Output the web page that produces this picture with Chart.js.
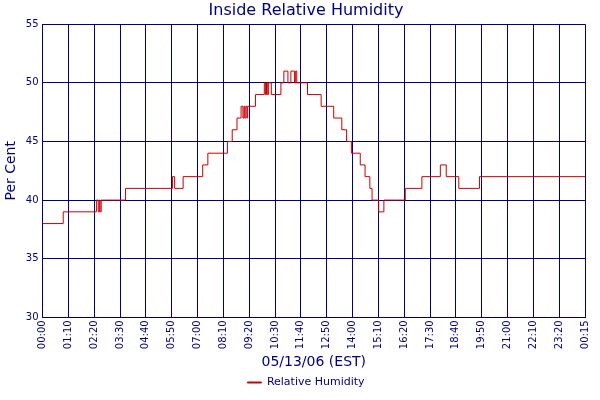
<!DOCTYPE html>
<html><head><meta charset="utf-8">
<script src="https://cdn.jsdelivr.net/npm/chart.js@4/dist/chart.umd.min.js"></script>
<style>html,body{margin:0;background:#fff}#w{width:600px;height:400px}</style>
</head><body><div id="w"><canvas id="c"></canvas></div>
<script>
const tickLabels=["00:00","01:10","02:20","03:30","04:40","05:50","07:00","08:10","09:20","10:30","11:40","12:50","14:00","15:10","16:20","17:30","18:40","19:50","21:00","22:10","23:20","00:15"];
const minutes=[0,56,146,151,154,156,159,225,352,358,381,434,448,501,514,527,538,543,546,548,551,554,556,577,601,604,607,609,612,620,646,654,665,673,683,686,689,718,755,789,811,824,837,861,874,887,893,911,925,983,1028,1078,1094,1128,1184,1470];
const humidity=[38,39,40,39,40,39,40,41,42,41,42,43,44,45,46,47,48,47,48,47,48,47,48,49,50,49,50,49,50,49,50,51,50,51,50,51,50,49,48,47,46,45,44,43,42,41,40,39,40,41,42,43,42,41,42,42];
const navy='#000080';
const F='DejaVu Sans';
new Chart(document.getElementById('c'),{type:'line',
data:{datasets:[{label:'Relative Humidity',data:minutes.map((m,i)=>({x:m,y:humidity[i]})),stepped:true,borderColor:'#cc0000',backgroundColor:'#cc0000',borderWidth:1,pointRadius:0,fill:false}]},
options:{responsive:true,maintainAspectRatio:false,animation:false,
layout:{padding:{left:3,right:-9,top:0,bottom:2}},
plugins:{title:{display:true,text:'Inside Relative Humidity',color:navy,font:{family:F,size:16,weight:'normal'},padding:{top:1,bottom:4}},
legend:{position:'bottom',labels:{color:navy,font:{family:F,size:11},boxWidth:14,boxHeight:1,padding:4}},tooltip:{enabled:false}},
scales:{x:{type:'linear',min:0,max:1470,
afterBuildTicks:a=>{a.ticks=tickLabels.map((_,i)=>({value:i*70}));},
ticks:{color:navy,font:{family:F,size:10},minRotation:90,maxRotation:90,autoSkip:false,padding:3,callback:(v,i)=>tickLabels[i]},
grid:{color:navy,lineWidth:1,tickLength:0},border:{color:navy},
title:{display:true,text:'05/13/06 (EST)',color:navy,font:{family:F,size:14},padding:{top:2,bottom:2}}},
y:{min:30,max:55,ticks:{stepSize:5,color:navy,font:{family:F,size:10},padding:4},
grid:{color:navy,lineWidth:1,tickLength:0},border:{color:navy},
title:{display:true,text:'Per Cent',color:navy,font:{family:F,size:14},padding:{top:0,bottom:2}}}}}});
</script></body></html>
